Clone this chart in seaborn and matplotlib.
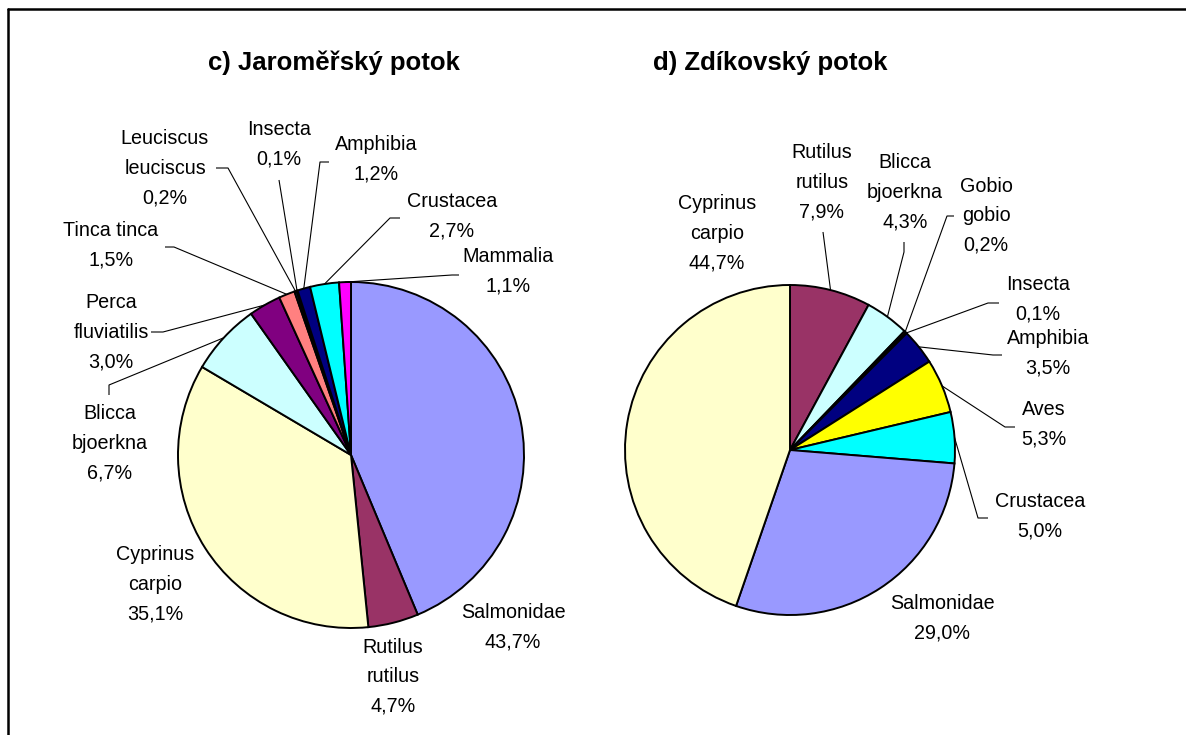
import matplotlib
matplotlib.use("Agg")
import matplotlib.pyplot as plt
from matplotlib.lines import Line2D
import numpy as np
import seaborn as sns

# ---------------- data ----------------
title_c = "c) Jaroměřský potok"
cats_c = ["Salmonidae", "Rutilus\nrutilus", "Cyprinus\ncarpio", "Blicca\nbjoerkna",
          "Perca\nfluviatilis", "Tinca tinca", "Leuciscus\nleuciscus", "Insecta",
          "Amphibia", "Crustacea", "Mammalia"]
vals_c = [43.7, 4.7, 35.1, 6.7, 3.0, 1.5, 0.2, 0.1, 1.2, 2.7, 1.1]
cols_c = ["#9999FF", "#993366", "#FFFFCC", "#CCFFFF", "#800080", "#FF8080",
          "#0066CC", "#CCCCFF", "#000080", "#00FFFF", "#FF00FF"]

title_d = "d) Zdíkovský potok"
cats_d = ["Rutilus\nrutilus", "Blicca\nbjoerkna", "Gobio\ngobio", "Insecta",
          "Amphibia", "Aves", "Crustacea", "Salmonidae", "Cyprinus\ncarpio"]
vals_d = [7.9, 4.3, 0.2, 0.1, 3.5, 5.3, 5.0, 29.0, 44.7]
cols_d = ["#993366", "#CCFFFF", "#CC6600", "#333333", "#000080", "#FFFF00",
          "#00FFFF", "#9999FF", "#FFFFCC"]

# ---------------- layout (pixel coords, y from top) ----------------
W, H = 1186, 735
pie_c = dict(cx=351, cy=455, r=173)
pie_d = dict(cx=790, cy=450, r=165)

lab_pos_c = [(513, 627.5), (393, 677), (155, 584), (110, 443), (111, 332),
             (111, 245.5), (165, 168), (279, 144.5), (376, 159), (452, 216),
             (508, 271.5)]
lead_c = [None, None, None, [(109, 395), (109, 385)], [(151, 332), (163, 332)],
          [(165, 247), (174, 247)], [(216, 168), (228, 168)], [(279, 180)],
          [(329, 162), (320, 162)], [(400, 218), (390, 218)],
          [(459, 275), (452, 275)]]

lab_pos_d = [(822, 182), (905, 192), (986, 215.5), (1038, 299.5), (1048, 353),
             (1044, 424), (1040, 516), (942, 618), (717, 233)]
lead_d = [[(823, 232)], [(904, 242), (904, 252)], [(954, 216), (947, 216)],
          [(999, 303), (988, 303)], [(1002, 355), (993, 355)],
          [(1015, 427), (1005, 427)], [(988, 518), (978, 518)], None, None]

sns.set_theme(style="white")
plt.rcParams["font.family"] = ["Liberation Sans", "DejaVu Sans"]

fig = plt.figure(figsize=(W / 100, H / 100), dpi=100)
ax = fig.add_axes([0, 0, 1, 1])


def Y(y):
    return H - y


def draw(pie, cats, vals, cols, lab_pos, leads, title, title_x):
    wedges, _ = ax.pie(vals, colors=sns.color_palette(cols), startangle=90,
                       counterclock=False, center=(pie["cx"], Y(pie["cy"])),
                       radius=pie["r"],
                       wedgeprops=dict(edgecolor="black", linewidth=1.4))
    for w, cat, v, pos, ld in zip(wedges, cats, vals, lab_pos, leads):
        txt = cat + "\n" + f"{v:.1f}%".replace(".", ",")
        ax.text(pos[0], Y(pos[1]), txt, ha="center", va="center",
                fontsize=14.2, linespacing=1.7, color="black")
        if ld is not None:
            mid = np.deg2rad((w.theta1 + w.theta2) / 2)
            ex = pie["cx"] + pie["r"] * np.cos(mid)
            ey = Y(pie["cy"]) + pie["r"] * np.sin(mid)
            xs = [p[0] for p in ld] + [ex]
            ys = [Y(p[1]) for p in ld] + [ey]
            ax.plot(xs, ys, color="black", lw=0.8, solid_capstyle="butt")
    ax.text(title_x, Y(63), title, ha="center", va="center",
            fontsize=18.5, fontweight="bold", color="black")


draw(pie_c, cats_c, vals_c, cols_c, lab_pos_c, lead_c, title_c, 334)
draw(pie_d, cats_d, vals_d, cols_d, lab_pos_d, lead_d, title_d, 770)

ax.set_xlim(0, W)
ax.set_ylim(0, H)
ax.set_aspect("equal")
ax.axis("off")

# partial outer frame (top and left edges)
fig.add_artist(Line2D([8 / W, 1], [1 - 9 / H, 1 - 9 / H], color="black", lw=1.8,
                      transform=fig.transFigure))
fig.add_artist(Line2D([8 / W, 8 / W], [0, 1 - 9 / H], color="black", lw=1.8,
                      transform=fig.transFigure))

fig.savefig("out.png", dpi=100, facecolor="white")
